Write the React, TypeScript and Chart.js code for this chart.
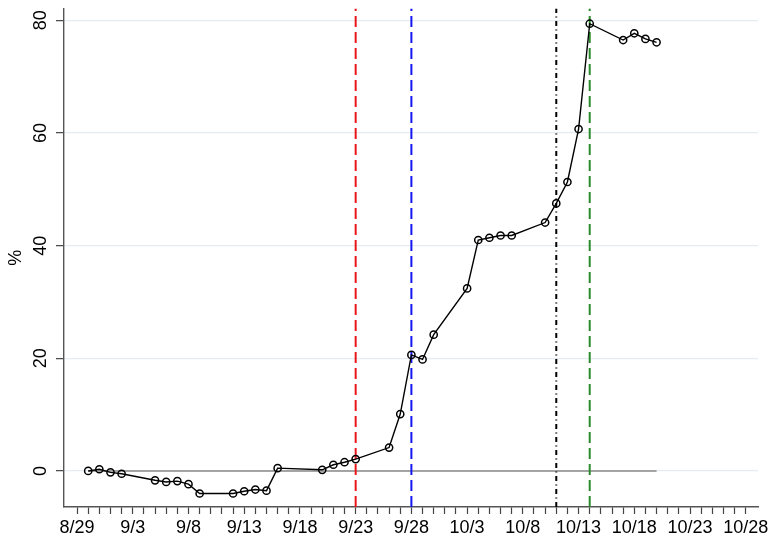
import React, { useEffect, useRef } from "react";
import { Chart, registerables } from "chart.js";

Chart.register(...registerables);

// ---- data ----
const dates = [
  "8/30", "8/31", "9/1", "9/2", "9/5", "9/6", "9/7", "9/8", "9/9", "9/12",
  "9/13", "9/14", "9/15", "9/16", "9/20", "9/21", "9/22", "9/23", "9/26", "9/27",
  "9/28", "9/29", "9/30", "10/3", "10/4", "10/5", "10/6", "10/7", "10/10", "10/11",
  "10/12", "10/13", "10/14", "10/17", "10/18", "10/19", "10/20",
];
const values = [
  0, 0.3, -0.25, -0.5, -1.66, -1.95, -1.8, -2.35, -4.0, -4.0,
  -3.6, -3.3, -3.5, 0.5, 0.2, 1.1, 1.55, 2.1, 4.15, 10.1,
  20.6, 19.8, 24.2, 32.4, 41.0, 41.4, 41.8, 41.8, 44.1, 47.5,
  51.3, 60.7, 79.4, 76.5, 77.7, 76.7, 76.1,
];
const baselineDates = ["8/30", "10/20"];
const baselineValue = 0;
const eventDates = ["9/23", "9/28", "10/11", "10/14"];
const eventColors = ["#e8161b", "#1616f0", "#000000", "#2b8b2b"];
const eventDashes = [[11, 5], [11, 5], [5, 3.5, 1, 3.5], [11, 5]];
const xTickLabels = ["8/29", "9/3", "9/8", "9/13", "9/18", "9/23", "9/28", "10/3", "10/8", "10/13", "10/18", "10/23", "10/28"];
const yTickValues = [0, 20, 40, 60, 80];
const X_MIN = -1.17;
const X_MAX = 61.1;
const Y_MIN = -6.4;
const Y_MAX = 82.1;

const ORIGIN = Date.UTC(2020, 7, 29);
function dayOf(label: string): number {
  const [m, d] = label.split("/").map(Number);
  return Math.round((Date.UTC(2020, m - 1, d) - ORIGIN) / 86400000);
}

const FONT = "'Liberation Sans', Arial, Helvetica, sans-serif";

export default function App() {
  const ref = useRef<HTMLCanvasElement | null>(null);

  useEffect(() => {
    document.body.style.margin = "0";
    const canvas = ref.current;
    if (!canvas) return;

    const labelMap: Record<number, string> = {};
    xTickLabels.forEach((l) => (labelMap[dayOf(l)] = l));
    const firstTick = dayOf(xTickLabels[0]);
    const lastTick = dayOf(xTickLabels[xTickLabels.length - 1]);

    const mainData = dates.map((d, i) => ({ x: dayOf(d), y: values[i] }));
    const baseData = baselineDates.map((d) => ({ x: dayOf(d), y: baselineValue }));

    const eventSets = eventDates.map((d, i) => ({
      data: [
        { x: dayOf(d), y: Y_MIN },
        { x: dayOf(d), y: Y_MAX },
      ],
      borderColor: eventColors[i],
      borderWidth: 2,
      borderDash: eventDashes[i],
      pointRadius: 0,
      fill: false,
    }));

    const chart = new Chart(canvas, {
      type: "line",
      data: {
        datasets: [
          {
            data: mainData,
            borderColor: "#000",
            borderWidth: 1.4,
            pointRadius: 3.6,
            pointBorderWidth: 1.5,
            pointBorderColor: "#000",
            pointBackgroundColor: "rgba(0,0,0,0)",
            fill: false,
          },
          ...eventSets,
          {
            data: baseData,
            borderColor: "#8a8a8a",
            borderWidth: 1.6,
            pointRadius: 0,
            fill: false,
          },
        ],
      },
      options: {
        responsive: false,
        animation: false,
        events: [],
        layout: { padding: { top: 8.5, right: 14, left: 0, bottom: 0 } },
        plugins: {
          legend: { display: false },
          tooltip: { enabled: false },
        },
        scales: {
          x: {
            type: "linear",
            min: X_MIN,
            max: X_MAX,
            afterBuildTicks: (scale: any) => {
              const t = [];
              for (let v = firstTick; v <= lastTick; v++) t.push({ value: v });
              scale.ticks = t;
            },
            afterFit: (scale: any) => {
              scale.height = 29;
              scale.paddingLeft = 0;
              scale.paddingRight = 0;
            },
            grid: {
              drawOnChartArea: false,
              tickLength: 7,
              tickColor: "#444",
              tickWidth: 1.2,
            },
            border: { color: "#555", width: 1.4 },
            ticks: {
              autoSkip: false,
              maxRotation: 0,
              minRotation: 0,
              padding: 3,
              color: "#000",
              font: { family: FONT, size: 18 },
              callback: (v: any) => labelMap[v as number] ?? "",
            },
          },
          y: {
            type: "linear",
            min: Y_MIN,
            max: Y_MAX,
            afterBuildTicks: (scale: any) => {
              scale.ticks = yTickValues.map((v) => ({ value: v }));
            },
            afterFit: (scale: any) => {
              scale.width = 64;
              scale.paddingTop = 0;
              scale.paddingBottom = 0;
            },
            grid: {
              color: "#e4ecef",
              lineWidth: 1.3,
              tickLength: 8,
              tickColor: "#444",
              tickWidth: 1.2,
            },
            border: { color: "#555", width: 1.4 },
            title: {
              display: true,
              text: "%",
              color: "#000",
              font: { family: FONT, size: 18 },
              padding: { top: 5, bottom: 0 },
            },
            ticks: {
              minRotation: 90,
              maxRotation: 90,
              crossAlign: "center",
              padding: 5,
              color: "#000",
              font: { family: FONT, size: 18 },
            },
          },
        },
      },
    } as any);

    return () => chart.destroy();
  }, []);

  return (
    <div style={{ width: 772, height: 536 }}>
      <canvas ref={ref} width={772} height={536} style={{ width: 772, height: 536, display: "block" }} />
    </div>
  );
}
